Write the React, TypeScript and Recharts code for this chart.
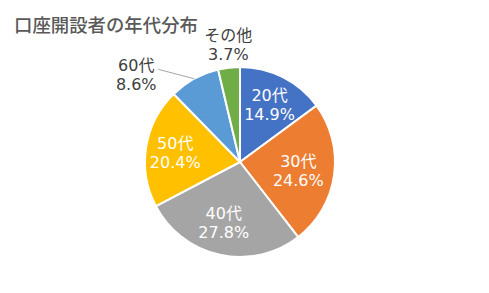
import { PieChart, Pie, Cell } from 'recharts';

const categories = ['20代', '30代', '40代', '50代', '60代', 'その他'];
const shares = [14.9, 24.6, 27.8, 20.4, 8.6, 3.7];
const colors = ['#4472C4', '#ED7D31', '#A5A5A5', '#FFC000', '#5B9BD5', '#70AD47'];

// label placement per slice: radius factor, angle shift (deg), inside or not
const labelPlace = [
  { r: 0.69, shift: 0, inside: true },
  { r: 0.62, shift: 0, inside: true },
  { r: 0.65, shift: -3, inside: true },
  { r: 0.69, shift: 0, inside: true },
  { r: 1.43, shift: 21, inside: false },
  { r: 1.25, shift: -1, inside: false },
];

const data = categories.map((name, i) => ({ name, value: shares[i] }));
const RAD = Math.PI / 180;
const FONT = '"Noto Sans CJK JP", "Noto Sans", sans-serif';
const LABEL_FONT = '"DejaVu Sans", "Noto Sans CJK JP", sans-serif';

const renderLabel = (props: any) => {
  const { cx, cy, midAngle, outerRadius, index } = props;
  const p = labelPlace[index];
  const a = (midAngle + p.shift) * RAD;
  const x = cx + outerRadius * p.r * Math.cos(-a);
  const y = cy + outerRadius * p.r * Math.sin(-a);
  const fill = p.inside ? '#ffffff' : '#404040';
  const edgeX = cx + outerRadius * Math.cos(-midAngle * RAD);
  const edgeY = cy + outerRadius * Math.sin(-midAngle * RAD);
  return (
    <g key={`lbl-${index}`}>
      {p.shift > 10 && (
        <polyline points={`${x + 22},${y - 5} ${edgeX},${edgeY}`} stroke="#a6a6a6" strokeWidth={1} fill="none" />
      )}
      <text x={x} y={y - 3} fill={fill} textAnchor="middle" fontFamily={LABEL_FONT} fontSize={16}>
        {categories[index]}
      </text>
      <text x={x} y={y + 16} fill={fill} textAnchor="middle" fontFamily={LABEL_FONT} fontSize={16}>
        {shares[index].toFixed(1)}%
      </text>
    </g>
  );
};

export default function App() {
  return (
    <div style={{ position: 'absolute', left: 0, top: 0, width: 489, height: 293, background: '#fff' }}>
      <div
        style={{
          position: 'absolute',
          left: 14,
          top: 12,
          fontFamily: FONT,
          fontSize: 18.4,
          fontWeight: 500,
          color: '#595959',
          lineHeight: '24px',
          whiteSpace: 'nowrap',
        }}
      >
        口座開設者の年代分布
      </div>
      <PieChart width={489} height={293} margin={{ top: 0, right: 0, bottom: 0, left: 0 }}>
        <Pie
          data={data}
          dataKey="value"
          nameKey="name"
          cx={240}
          cy={162}
          outerRadius={95}
          startAngle={90}
          endAngle={-270}
          stroke="#ffffff"
          strokeWidth={2}
          label={renderLabel}
          labelLine={false}
          isAnimationActive={false}
        >
          {data.map((d, i) => (
            <Cell key={d.name} fill={colors[i]} />
          ))}
        </Pie>
      </PieChart>
    </div>
  );
}
